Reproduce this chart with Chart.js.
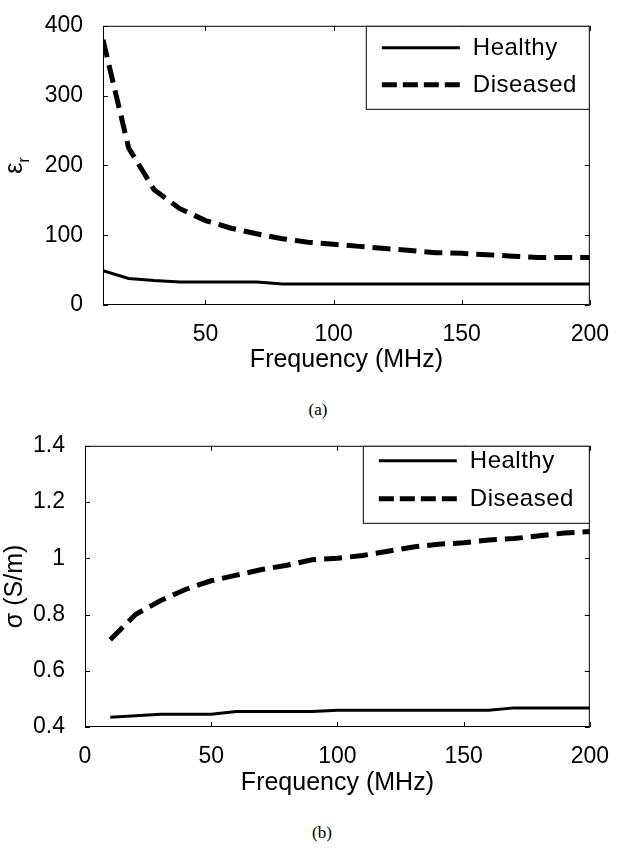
<!DOCTYPE html>
<html>
<head>
<meta charset="utf-8">
<script src="https://cdn.jsdelivr.net/npm/chart.js@4.4.1/dist/chart.umd.min.js"></script>
<style>
  body { margin: 0; background: #fff; width: 617px; height: 848px; position: relative; overflow: hidden; }
  .panel { position: absolute; left: 0; width: 617px; height: 390px; }
  .cap { position: absolute; font-family: "Liberation Serif", "Times New Roman", serif; font-size: 17px; color: #000; transform: translate(-50%, -50%); }
</style>
</head>
<body>
<div class="panel" style="top:0"><canvas id="perm"></canvas></div>
<div class="cap" style="left:318px;top:410px">(a)</div>
<div class="panel" style="top:420px"><canvas id="cond"></canvas></div>
<div class="cap" style="left:322px;top:833px">(b)</div>
<script>
// frequency points (MHz)
const freq = [10, 20, 30, 40, 50, 60, 70, 80, 90, 100, 110, 120, 130, 140, 150, 160, 170, 180, 190, 200];

// relative permittivity
const permHealthy = [49, 38, 35, 33, 33, 33, 33, 30, 30, 30, 30, 30, 30, 30, 30, 30, 30, 30, 30, 30];
const permDiseased = [380, 225, 165, 138, 121, 110, 102, 95, 90, 87, 84, 81, 78, 75, 74, 72, 70, 68, 68, 68];

// conductivity (S/m)
const condHealthy = [0.435, 0.44, 0.445, 0.445, 0.445, 0.455, 0.455, 0.455, 0.455, 0.46, 0.46, 0.46, 0.46, 0.46, 0.46, 0.46, 0.468, 0.468, 0.468, 0.468];
const condDiseased = [0.71, 0.80, 0.85, 0.89, 0.92, 0.94, 0.96, 0.975, 0.995, 1.0, 1.01, 1.025, 1.04, 1.05, 1.055, 1.065, 1.07, 1.08, 1.09, 1.095];

const seriesNames = ['Healthy', 'Diseased'];

// tick values
const permXTicks = [50, 100, 150, 200];
const permYTicks = [0, 100, 200, 300, 400];
const condXTicks = [0, 50, 100, 150, 200];
const condYTicks = [0.4, 0.6, 0.8, 1, 1.2, 1.4];

const FONT = '"Liberation Sans", Arial, sans-serif';
Chart.defaults.font.family = FONT;
Chart.defaults.color = '#000';

const pts = (ys) => ys.map((y, i) => ({ x: freq[i], y: y }));

// box around the axes with inward ticks on all four sides
const frame = {
  id: 'frame',
  afterDraw(chart) {
    const { ctx, chartArea: a, scales: { x, y } } = chart;
    ctx.save();
    ctx.strokeStyle = '#000';
    ctx.lineWidth = 1;
    ctx.strokeRect(a.left + 0.5, a.top + 0.5, a.width - 1, a.height - 1);
    ctx.beginPath();
    x.ticks.forEach(t => {
      const px = Math.round(x.getPixelForValue(t.value)) + 0.5;
      ctx.moveTo(px, a.bottom); ctx.lineTo(px, a.bottom - 5);
      ctx.moveTo(px, a.top); ctx.lineTo(px, a.top + 5);
    });
    y.ticks.forEach(t => {
      const py = Math.round(y.getPixelForValue(t.value)) + 0.5;
      ctx.moveTo(a.left, py); ctx.lineTo(a.left + 5, py);
      ctx.moveTo(a.right, py); ctx.lineTo(a.right - 5, py);
    });
    ctx.stroke();
    ctx.restore();
  }
};

// boxed legend in the upper right corner
const legendBox = {
  id: 'legendBox',
  afterDraw(chart, args, opts) {
    const { ctx, chartArea: a } = chart;
    const left = a.right - opts.width, top = a.top;
    ctx.save();
    ctx.fillStyle = '#fff';
    ctx.fillRect(left, top, opts.width, opts.height);
    ctx.strokeStyle = '#000';
    ctx.lineWidth = 1;
    ctx.strokeRect(left + 0.5, top + 0.5, opts.width - 1, opts.height);
    chart.data.datasets.forEach((ds, i) => {
      const yy = top + opts.rows[i];
      ctx.beginPath();
      ctx.lineWidth = ds.borderWidth;
      ctx.setLineDash(i === 1 ? [15, 6] : []);
      ctx.moveTo(left + 16, yy);
      ctx.lineTo(left + 94, yy);
      ctx.stroke();
      ctx.fillStyle = '#000';
      ctx.font = '24px ' + FONT;
      ctx.letterSpacing = '0.5px';
      ctx.textBaseline = 'middle';
      ctx.fillText(ds.label, left + 107, yy + 1);
    });
    ctx.restore();
  }
};

// rotated epsilon with subscript r
const epsLabel = {
  id: 'epsLabel',
  afterDraw(chart) {
    const { ctx, chartArea: a } = chart;
    ctx.save();
    ctx.translate(21.5, (a.top + a.bottom) / 2);
    ctx.rotate(-Math.PI / 2);
    ctx.fillStyle = '#000';
    ctx.textBaseline = 'alphabetic';
    ctx.textAlign = 'left';
    ctx.font = '25px ' + FONT;
    const w1 = ctx.measureText('ε').width;
    ctx.font = '17px ' + FONT;
    const w2 = ctx.measureText('r').width;
    const start = -(w1 + w2) / 2;
    ctx.font = '25px ' + FONT;
    ctx.fillText('ε', start, 0);
    ctx.font = '17px ' + FONT;
    ctx.fillText('r', start + w1, 7);
    ctx.restore();
  }
};

function makeChart(id, healthy, diseased, cfg) {
  return new Chart(document.getElementById(id), {
    type: 'line',
    data: {
      datasets: [
        { label: seriesNames[0], data: pts(healthy), borderColor: '#000', borderWidth: 3, pointRadius: 0, tension: 0, fill: false },
        { label: seriesNames[1], data: pts(diseased), borderColor: '#000', borderWidth: 5, borderDash: [18, 8], pointRadius: 0, tension: 0, fill: false }
      ]
    },
    options: {
      responsive: true,
      maintainAspectRatio: false,
      animation: false,
      layout: { padding: cfg.padding },
      plugins: {
        legend: { display: false },
        tooltip: { enabled: false },
        legendBox: cfg.legend
      },
      scales: {
        x: {
          type: 'linear',
          min: cfg.xMin, max: 200,
          grid: { display: false },
          border: { display: false },
          afterBuildTicks: s => { s.ticks = cfg.xTicks.map(v => ({ value: v })); },
          afterFit: s => { s.height = cfg.xHeight; },
          ticks: { font: { size: 23 }, padding: 8, maxRotation: 0, callback: v => String(v) },
          title: { display: true, text: 'Frequency (MHz)', font: { size: 25 }, padding: 0 }
        },
        y: {
          min: cfg.yTicks[0], max: cfg.yTicks[cfg.yTicks.length - 1],
          grid: { display: false },
          border: { display: false },
          afterBuildTicks: s => { s.ticks = cfg.yTicks.map(v => ({ value: v })); },
          afterFit: s => { s.width = cfg.yWidth; },
          ticks: { font: { size: 23 }, padding: 12, callback: v => String(v) },
          title: { display: !!cfg.yTitle, text: cfg.yTitle || '', font: { size: 25 }, padding: 0 }
        }
      }
    },
    plugins: cfg.extra ? [frame, legendBox, cfg.extra] : [frame, legendBox]
  });
}

makeChart('perm', permHealthy, permDiseased, {
  xMin: 10, xTicks: permXTicks, yTicks: permYTicks,
  padding: { left: 0, right: 26, top: 14, bottom: 15 },
  xHeight: 70, yWidth: 103,
  legend: { width: 224, height: 83, rows: [22, 59] },
  extra: epsLabel
});

makeChart('cond', condHealthy, condDiseased, {
  xMin: 0, xTicks: condXTicks, yTicks: condYTicks,
  padding: { left: 0, right: 22, top: 20, bottom: 12 },
  xHeight: 71, yWidth: 85,
  yTitle: 'σ (S/m)',
  legend: { width: 227, height: 77, rows: [15, 53] }
});
</script>
</body>
</html>
